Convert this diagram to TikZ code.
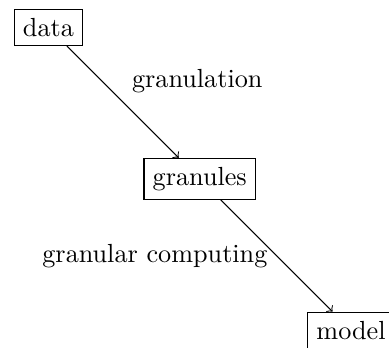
\documentclass[tikz,border=0pt]{standalone}
\usetikzlibrary{positioning}

\begin{document}
\begin{tikzpicture}[box/.style={draw,rectangle},on grid,node distance=2.03cm]
		\useasboundingbox (-18.5pt,10.5pt) rectangle (130pt,-122pt);
		\node[box]											(data)		{data};
		\node[box,below right=2.03cm and 2.03cm of data]	(granules)	{granules};
		\node[box,below right=2.03cm and 2.03cm of granules](model)		{model};

		\draw[->] (data) -- node[above right] {granulation} (granules);
		\draw[->] (granules) -- node[left] {granular computing} (model);
	\end{tikzpicture}
\end{document}
